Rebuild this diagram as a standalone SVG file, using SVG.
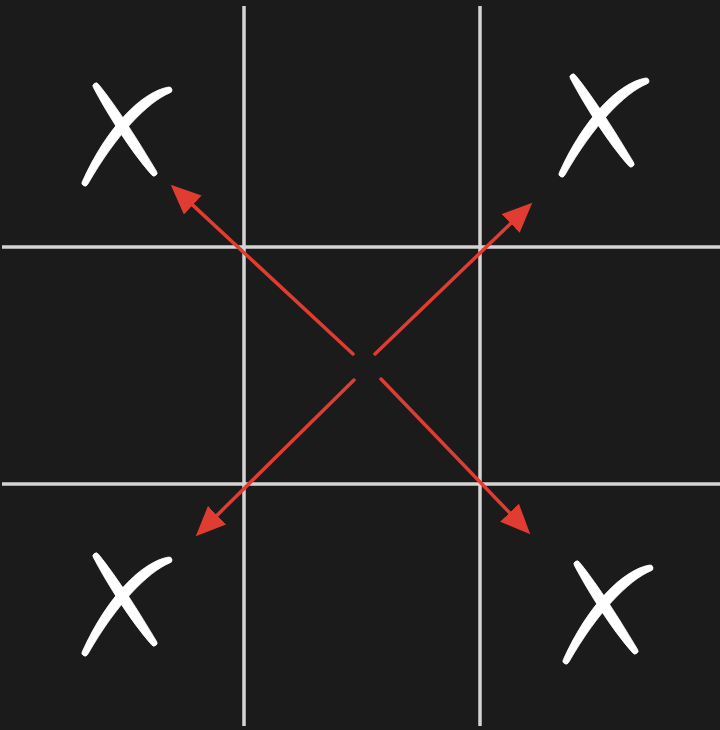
<svg xmlns="http://www.w3.org/2000/svg" width="720" height="730" viewBox="0 0 720 730">
  <style>
    .grid { stroke: #d4d4d4; stroke-width: 3.5; fill: none; }
    .xmark { fill: #ffffff; stroke: #ffffff; stroke-width: 0.8; stroke-linejoin: round; }
    .arrow { stroke: #e03c31; stroke-width: 3.5; stroke-linecap: round; fill: none; }
  </style>
  <defs>
    <marker id="head" markerUnits="userSpaceOnUse" markerWidth="32" markerHeight="28" refX="1" refY="13" orient="auto">
      <path d="M0,0 L30,13 L0,26 Z" fill="#e03c31"/>
    </marker>
    <g id="xshape">
      <path class="xmark" d="M98.5,84.3 C117,106.7 140,143.7 156.5,171.3 A3,3 0 0 1 151.5,174.7 C130,150.3 107,113.3 93.5,87.7 A3,3 0 0 1 98.5,84.3 Z"/>
      <path class="xmark" d="M168.2,87.1 C142.3,91.7 107.2,126.4 82.3,181.6 A3,3 0 0 0 87.7,184.4 C116.8,133.6 147.7,102.3 169.8,92.9 A3,3 0 0 0 168.2,87.1 Z"/>
    </g>
  </defs>
  <rect x="0" y="0" width="720" height="730" fill="#1b1b1b"/>
  <g id="grid">
    <line class="grid" x1="244" y1="6" x2="244" y2="726"/>
    <line class="grid" x1="480" y1="6" x2="480" y2="726"/>
    <line class="grid" x1="2" y1="247" x2="720" y2="247"/>
    <line class="grid" x1="2" y1="484" x2="720" y2="484"/>
  </g>
  <g id="x-top-left"><use href="#xshape"/></g>
  <g id="x-top-right"><use href="#xshape" transform="translate(477,-9)"/></g>
  <g id="x-bottom-left"><use href="#xshape" transform="translate(0,470)"/></g>
  <g id="x-bottom-right"><use href="#xshape" transform="translate(481,478)"/></g>
  <g id="connectors">
    <line class="arrow" x1="353" y1="354" x2="192" y2="204.4" marker-end="url(#head)"/>
    <line class="arrow" x1="375" y1="354" x2="511.4" y2="222.8" marker-end="url(#head)"/>
    <line class="arrow" x1="354" y1="380" x2="216.4" y2="515.9" marker-end="url(#head)"/>
    <line class="arrow" x1="381" y1="379" x2="510.2" y2="513.4" marker-end="url(#head)"/>
  </g>
</svg>
